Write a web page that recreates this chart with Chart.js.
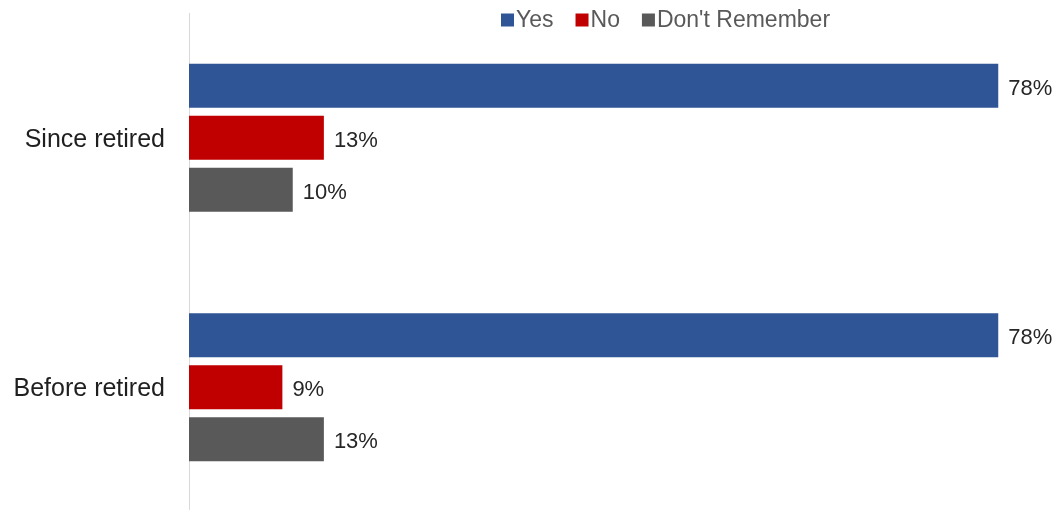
<!DOCTYPE html>
<html>
<head>
<meta charset="utf-8">
<script src="https://cdn.jsdelivr.net/npm/chart.js@4.4.0/dist/chart.umd.min.js"></script>
<style>
  html, body { margin: 0; padding: 0; background: #fff; overflow: hidden; }
  canvas { display: block; }
</style>
</head>
<body>
<canvas id="chart" width="1057" height="512"></canvas>
<script>
// categories and series
const categories = ["Since retired", "Before retired"];
const yesValues = [78, 78];
const noValues = [13, 9];
const dontRememberValues = [10, 13];
const seriesNames = ["Yes", "No", "Don't Remember"];
const seriesColors = ["#2F5597", "#C00000", "#595959"];

const FONT = "'Liberation Sans', Arial, sans-serif";

// value labels at the end of each bar
const barLabels = {
  id: "barLabels",
  afterDatasetsDraw(chart) {
    const ctx = chart.ctx;
    ctx.save();
    ctx.font = "22px " + FONT;
    ctx.fillStyle = "#262626";
    ctx.textAlign = "left";
    ctx.textBaseline = "middle";
    chart.data.datasets.forEach((ds, i) => {
      chart.getDatasetMeta(i).data.forEach((bar, j) => {
        ctx.fillText(ds.data[j] + "%", bar.x + 10, bar.y + 3);
      });
    });
    ctx.restore();
  }
};

// compact legend across the top (square, small gap, label)
const topLegend = {
  id: "topLegend",
  afterDraw(chart) {
    const ctx = chart.ctx;
    ctx.save();
    ctx.font = "23px " + FONT;
    ctx.textBaseline = "middle";
    let x = 501;
    const y = 20;
    chart.data.datasets.forEach(ds => {
      ctx.fillStyle = ds.backgroundColor;
      ctx.fillRect(x, y - 6.5, 13, 13);
      x += 15;
      ctx.fillStyle = "#595959";
      ctx.fillText(ds.label, x, y + 1);
      x += ctx.measureText(ds.label).width + 22;
    });
    ctx.restore();
  }
};

const valueSets = [yesValues, noValues, dontRememberValues];

new Chart(document.getElementById("chart").getContext("2d"), {
  type: "bar",
  data: {
    labels: categories,
    datasets: valueSets.map((vals, i) => ({
      label: seriesNames[i],
      data: vals,
      backgroundColor: seriesColors[i],
      borderWidth: 0,
      categoryPercentage: 0.625,
      barPercentage: 0.846
    }))
  },
  options: {
    indexAxis: "y",
    responsive: false,
    animation: false,
    layout: { padding: { top: 13, right: 38, bottom: 0, left: 0 } },
    plugins: {
      legend: { display: false },
      tooltip: { enabled: false }
    },
    scales: {
      x: {
        display: false,
        min: 0,
        max: 80
      },
      y: {
        afterFit(scale) {
          scale.width = 189;
          scale.paddingTop = 0;
          scale.paddingBottom = 0;
        },
        grid: { display: false, drawTicks: false },
        border: { display: true, color: "#D9D9D9", width: 1 },
        ticks: {
          padding: 24,
          labelOffset: 2,
          color: "#1F1F1F",
          font: { family: FONT, size: 25 }
        }
      }
    }
  },
  plugins: [barLabels, topLegend]
});
</script>
</body>
</html>
